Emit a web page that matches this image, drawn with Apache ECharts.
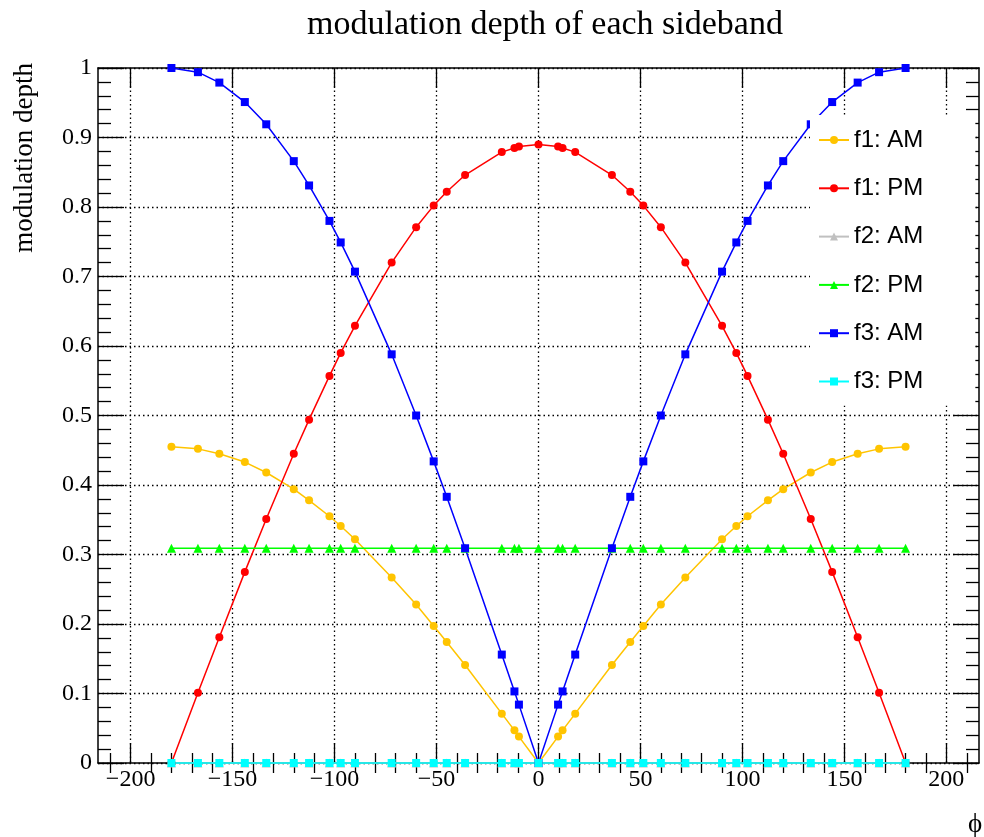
<!DOCTYPE html>
<html><head><meta charset="utf-8">
<script src="https://cdn.jsdelivr.net/npm/echarts@6/dist/echarts.min.js"></script>
<style>html,body{margin:0;padding:0;background:#fff}#c{width:984px;height:837px}</style>
</head><body><div id="c"></div>
<script>
// phase (degrees)
const phi = [-180, -167, -156.5, -144, -133.5, -120, -112.5, -102.5, -97, -90, -72, -60, -51.4, -45, -36, -18, -11.8, -9.6, 0,
             9.6, 11.8, 18, 36, 45, 51.4, 60, 72, 90, 97, 102.5, 112.5, 120, 133.5, 144, 156.5, 167, 180];
const f1AM = [0.455,0.452,0.445,0.433,0.418,0.394,0.378,0.355,0.341,0.322,0.267,0.228,0.197,0.174,0.141,0.071,0.047,0.038,0,
              0.038,0.047,0.071,0.141,0.174,0.197,0.228,0.267,0.322,0.341,0.355,0.378,0.394,0.418,0.433,0.445,0.452,0.455];
const f1PM = [0,0.101,0.181,0.275,0.351,0.445,0.494,0.557,0.590,0.629,0.720,0.771,0.802,0.822,0.846,0.879,0.885,0.887,0.890,
              0.887,0.885,0.879,0.846,0.822,0.802,0.771,0.720,0.629,0.590,0.557,0.494,0.445,0.351,0.275,0.181,0.101,0];
const f2AM = [0,0,0,0,0,0,0,0,0,0,0,0,0,0,0,0,0,0,0,0,0,0,0,0,0,0,0,0,0,0,0,0,0,0,0,0,0];
const f2PM = [0.309,0.309,0.309,0.309,0.309,0.309,0.309,0.309,0.309,0.309,0.309,0.309,0.309,0.309,0.309,0.309,0.309,0.309,0.309,
              0.309,0.309,0.309,0.309,0.309,0.309,0.309,0.309,0.309,0.309,0.309,0.309,0.309,0.309,0.309,0.309,0.309,0.309];
const f3AM = [1,0.994,0.979,0.951,0.919,0.866,0.831,0.780,0.749,0.707,0.588,0.5,0.434,0.383,0.309,0.156,0.103,0.084,0,
              0.084,0.103,0.156,0.309,0.383,0.434,0.5,0.588,0.707,0.749,0.780,0.831,0.866,0.919,0.951,0.979,0.994,1];
const f3PM = [0,0,0,0,0,0,0,0,0,0,0,0,0,0,0,0,0,0,0,0,0,0,0,0,0,0,0,0,0,0,0,0,0,0,0,0,0];

const seriesNames = ['f1: AM','f1: PM','f2: AM','f2: PM','f3: AM','f3: PM'];
const xMajorTicks = [-200,-150,-100,-50,0,50,100,150,200];
const xMinorTicks = [-210,-190,-180,-170,-160,-140,-130,-120,-110,-90,-80,-70,-60,-40,-30,-20,-10,
                     10,20,30,40,60,70,80,90,110,120,130,140,160,170,180,190,210];

const chart = echarts.init(document.getElementById('c'), null, {renderer:'canvas'});
const serif = '"Liberation Serif", "Times New Roman", serif';
const black = '#000';
const dotted = {color:black, width:1.3, type:[1.5,3]};

function mk(name, vals, color, symbol, size){
  return {name, type:'line', xAxisIndex:0, yAxisIndex:0,
    data: phi.map((x,i)=>[x, vals[i]]),
    symbol, symbolSize:size, showSymbol:true, clip:false,
    lineStyle:{color, width:1.5}, itemStyle:{color},
    emphasis:{disabled:true}, animation:false};
}
function xAx(pos, ticks, len, extra){
  return Object.assign({type:'value', min:-216, max:216, position:pos, splitNumber:9,
    axisLine:{show:true, onZero:false, lineStyle:{color:black, width:1.5}},
    axisTick:{show:true, inside:true, length:len, customValues:ticks, lineStyle:{color:black, width:1.3}},
    axisLabel:{show:false}, splitLine:{show:false}, minorTick:{show:false}}, extra||{});
}
function yAx(pos, extra){
  return Object.assign({type:'value', min:0, max:1, interval:0.1, position:pos,
    axisLine:{show:true, onZero:false, lineStyle:{color:black, width:1.5}},
    axisTick:{show:true, inside:true, length:26, lineStyle:{color:black, width:1.3}},
    minorTick:{show:true, splitNumber:5, length:13, lineStyle:{color:black, width:1.3}},
    axisLabel:{show:false}, splitLine:{show:false}}, extra||{});
}

chart.setOption({
  animation:false,
  backgroundColor:'#fff',
  title:{text:'modulation depth of each sideband', left:540, top:3, textAlign:'center',
    textStyle:{fontFamily:serif, fontSize:34, fontWeight:'normal', color:black}},
  grid:{left:98, top:68, width:881, height:695, show:false},
  legend:{orient:'vertical', left:810, top:115, backgroundColor:'#fff', padding:[13,52,12,8],
    itemWidth:30, itemHeight:10, itemGap:24.3, itemTextGap:8, selectedMode:false,
    textStyle:{fontFamily:'"Liberation Sans", Arial, sans-serif', fontSize:24, color:black, lineHeight:24},
    data:seriesNames},
  xAxis:[
    xAx('bottom', xMajorTicks, 20, {
      axisLabel:{show:true, customValues:xMajorTicks, margin:5, color:black, fontFamily:serif, fontSize:24,
        formatter:v=>String(v).replace('-','\u2212')},
      splitLine:{show:true, lineStyle:dotted}}),
    xAx('bottom', xMinorTicks, 10, {axisLine:{show:false}}),
    xAx('top', xMajorTicks, 20),
    xAx('top', xMinorTicks, 10, {axisLine:{show:false}})
  ],
  yAxis:[
    yAx('left', {axisLabel:{show:true, margin:6, color:black, fontFamily:serif, fontSize:24},
      splitLine:{show:true, lineStyle:dotted}}),
    yAx('right')
  ],
  graphic:[
    {type:'text', x:25, y:63, rotation:Math.PI/2, z:10,
      style:{text:'modulation depth', font:'27px "Liberation Serif"', fill:black, align:'right', verticalAlign:'middle'}},
    {type:'text', x:975, y:825, z:10,
      style:{text:'\u03d5', font:'27px "Liberation Serif"', fill:black, align:'center', verticalAlign:'middle'}}
  ],
  series:[
    mk(seriesNames[0], f1AM, '#ffc400', 'circle', 8),
    mk(seriesNames[1], f1PM, '#ff0000', 'circle', 8),
    mk(seriesNames[2], f2AM, '#c0c0c0', 'triangle', 9),
    mk(seriesNames[3], f2PM, '#00ff00', 'triangle', 9),
    mk(seriesNames[4], f3AM, '#0000ff', 'rect', 8),
    mk(seriesNames[5], f3PM, '#00ffff', 'rect', 8)
  ]
});
</script></body></html>
